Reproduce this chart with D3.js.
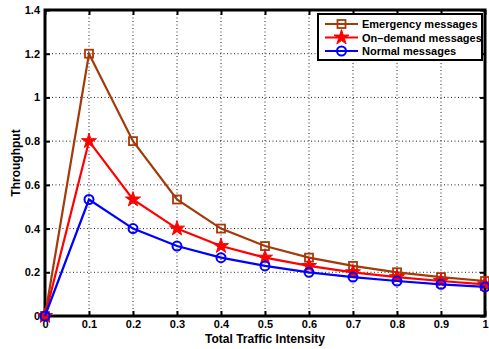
<!DOCTYPE html>
<html>
<head>
<meta charset="utf-8">
<script src="https://cdn.jsdelivr.net/npm/d3@7"></script>
<style>
  body { margin: 0; background: #fff; }
  text { font-family: "Liberation Sans", Arial, sans-serif; font-weight: bold; }
</style>
</head>
<body>
<div id="chart"></div>
<script>
const xValues   = [0, 0.1, 0.2, 0.3, 0.4, 0.5, 0.6, 0.7, 0.8, 0.9, 1];
const emergency = [0, 1.2, 0.8, 0.533, 0.4, 0.32, 0.267, 0.229, 0.2, 0.178, 0.16];
const onDemand  = [0, 0.8, 0.533, 0.4, 0.32, 0.267, 0.229, 0.2, 0.178, 0.16, 0.145];
const normal    = [0, 0.533, 0.4, 0.32, 0.267, 0.229, 0.2, 0.178, 0.16, 0.145, 0.133];
const xTicks    = [0, 0.1, 0.2, 0.3, 0.4, 0.5, 0.6, 0.7, 0.8, 0.9, 1];
const yTicks    = [0, 0.2, 0.4, 0.6, 0.8, 1, 1.2, 1.4];
const seriesNames = ["Emergency messages", "On\u2013demand messages", "Normal messages"];

const W = 489, H = 349;
const margin = {top: 10, right: 4, bottom: 33, left: 45};

const x = d3.scaleLinear().domain([0, 1]).range([margin.left, W - margin.right]);
const y = d3.scaleLinear().domain([0, 1.4]).range([H - margin.bottom, margin.top]);

const svg = d3.select("#chart").append("svg")
  .attr("width", W).attr("height", H);

const series = [
  {name: seriesNames[0], values: emergency, color: "#a33a0a", marker: "square"},
  {name: seriesNames[1], values: onDemand,  color: "#ff0000", marker: "star"},
  {name: seriesNames[2], values: normal,    color: "#0000ff", marker: "circle"},
];

// grid
const grid = svg.append("g").attr("stroke", "#222").attr("stroke-width", 1)
  .attr("stroke-dasharray", "1,2.5");
grid.selectAll("line.vx").data(xTicks.slice(1, -1)).enter().append("line")
  .attr("x1", d => x(d)).attr("x2", d => x(d))
  .attr("y1", y(0)).attr("y2", y(1.4));
grid.selectAll("line.hy").data(yTicks.slice(1, -1)).enter().append("line")
  .attr("x1", x(0)).attr("x2", x(1))
  .attr("y1", d => y(d)).attr("y2", d => y(d));

// axes
const xAxis = d3.axisBottom(x).tickValues(xTicks).tickSize(-5).tickPadding(4)
  .tickFormat(d => d3.format("")(d));
const yAxis = d3.axisLeft(y).tickValues(yTicks).tickSize(-5).tickPadding(5)
  .tickFormat(d => d3.format("")(d));

const gx = svg.append("g").attr("transform", `translate(0,${y(0)})`).call(xAxis);
const gy = svg.append("g").attr("transform", `translate(${x(0)},0)`).call(yAxis);
const gxTop = svg.append("g").attr("transform", `translate(0,${y(1.4)})`)
  .call(d3.axisTop(x).tickValues(xTicks).tickSize(-5).tickFormat(""));
const gyRight = svg.append("g").attr("transform", `translate(${x(1)},0)`)
  .call(d3.axisRight(y).tickValues(yTicks).tickSize(-5).tickFormat(""));

[gx, gy, gxTop, gyRight].forEach(g => {
  g.select(".domain").remove();
  g.selectAll(".tick line").attr("stroke", "#000").attr("stroke-width", 2);
  g.selectAll("text").attr("fill", "#000").style("font-size", "11px")
    .style("font-family", "'Liberation Sans', Arial, sans-serif").style("font-weight", "bold");
});

svg.append("rect")
  .attr("x", x(0)).attr("y", y(1.4))
  .attr("width", x(1) - x(0)).attr("height", y(0) - y(1.4))
  .attr("fill", "none").attr("stroke", "#000").attr("stroke-width", 3);

// lines
const line = d3.line().x((d, i) => x(xValues[i])).y(d => y(d));

const drawMarker = (g, type, color, cx, cy) => {
  if (type === "square") {
    g.append("rect").attr("x", cx - 4).attr("y", cy - 4).attr("width", 8).attr("height", 8)
      .attr("fill", "none").attr("stroke", color).attr("stroke-width", 1.8);
  } else if (type === "star") {
    g.append("path").attr("transform", `translate(${cx},${cy})`)
      .attr("d", d3.symbol().type(d3.symbolStar).size(70)())
      .attr("fill", color).attr("stroke", color).attr("stroke-width", 1);
  } else {
    g.append("circle").attr("cx", cx).attr("cy", cy).attr("r", 4.5)
      .attr("fill", "none").attr("stroke", color).attr("stroke-width", 2);
  }
};

series.forEach(s => {
  svg.append("path").datum(s.values)
    .attr("d", line).attr("fill", "none")
    .attr("stroke", s.color).attr("stroke-width", 2.2);
  const g = svg.append("g");
  s.values.forEach((v, i) => drawMarker(g, s.marker, s.color, x(xValues[i]), y(v)));
});

// axis labels
svg.append("text").attr("x", (x(0) + x(1)) / 2).attr("y", 343)
  .attr("text-anchor", "middle").style("font-size", "12px").text("Total Traffic Intensity");
svg.append("text").attr("transform", `translate(20,${(y(0) + y(1.4)) / 2}) rotate(-90)`)
  .attr("text-anchor", "middle").style("font-size", "12px").text("Throughput");

// legend
const lg = svg.append("g").attr("transform", "translate(318,14)");
lg.append("rect").attr("width", 164).attr("height", 46)
  .attr("fill", "#fff").attr("stroke", "#000").attr("stroke-width", 2);
series.forEach((s, i) => {
  const ly = 10 + i * 13.5;
  lg.append("line").attr("x1", 7).attr("x2", 40).attr("y1", ly).attr("y2", ly)
    .attr("stroke", s.color).attr("stroke-width", 2.2);
  drawMarker(lg, s.marker, s.color, 23.5, ly);
  lg.append("text").attr("x", 44).attr("y", ly + 4).style("font-size", "11px").text(s.name);
});
</script>
</body>
</html>
